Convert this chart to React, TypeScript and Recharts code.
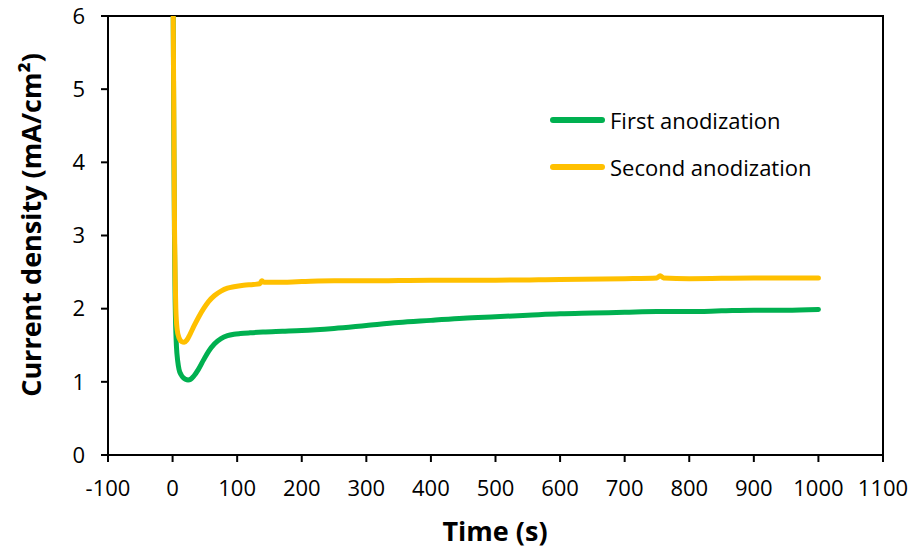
import React from 'react'
import { LineChart, Line, XAxis, YAxis, ReferenceArea, Label } from 'recharts'

const FONT = '"Open Sans", "Liberation Sans", sans-serif'

const xTicks = [-100, 0, 100, 200, 300, 400, 500, 600, 700, 800, 900, 1000, 1100]
const yTicks = [0, 1, 2, 3, 4, 5, 6]

const firstTime = [
  0, 1, 2, 3, 4, 5, 6, 8, 10, 13, 16, 20, 24, 28, 33, 40, 48, 56, 65, 75, 85, 95,
  105, 120, 140, 170, 200, 250, 300, 350, 400, 450, 500, 550, 600, 650, 700, 750,
  800, 850, 900, 950, 1000,
]
const firstCurrent = [
  8, 6, 4.2, 2.9, 2.1, 1.7, 1.48, 1.28, 1.17, 1.1, 1.06, 1.035, 1.025, 1.035, 1.08,
  1.17, 1.3, 1.42, 1.52, 1.59, 1.63, 1.65, 1.66, 1.67, 1.68, 1.69, 1.7, 1.73, 1.77,
  1.81, 1.84, 1.87, 1.89, 1.91, 1.93, 1.94, 1.95, 1.96, 1.96, 1.97, 1.98, 1.98, 1.99,
]

const secondTime = [
  0, 1, 2, 3, 4, 5, 7, 10, 14, 18, 22, 27, 33, 40, 48, 56, 65, 75, 85, 95, 110, 125,
  135, 138, 142, 160, 200, 250, 300, 400, 500, 600, 700, 750, 755, 760, 800, 900, 1000,
]
const secondCurrent = [
  8, 6, 4.5, 3.1, 2.4, 2.0, 1.72, 1.6, 1.55, 1.54, 1.57, 1.65, 1.76, 1.88, 2.0, 2.1,
  2.18, 2.24, 2.28, 2.3, 2.32, 2.33, 2.34, 2.38, 2.36, 2.36, 2.37, 2.38, 2.38, 2.39,
  2.39, 2.4, 2.41, 2.42, 2.45, 2.42, 2.41, 2.42, 2.42,
]

const firstData = firstTime.map((t, i) => ({ t, current: firstCurrent[i] }))
const secondData = secondTime.map((t, i) => ({ t, current: secondCurrent[i] }))

const GREEN = '#00B050'
const YELLOW = '#FFC000'

const seriesLegend = [
  { name: 'First anodization', color: GREEN },
  { name: 'Second anodization', color: YELLOW },
]

// legend sits inside the plot, drawn as a plain overlay so it takes no chart space
function LegendBox() {
  return (
    <div
      style={{
        position: 'absolute',
        left: 550,
        top: 96,
        fontFamily: FONT,
        fontSize: 22,
        color: '#000',
      }}
    >
      {seriesLegend.map((s) => (
        <div
          key={s.name}
          style={{ display: 'flex', alignItems: 'center', height: 47 }}
        >
          <div
            style={{
              width: 55,
              height: 6,
              borderRadius: 3,
              background: s.color,
              marginRight: 5,
            }}
          />
          <span>{s.name}</span>
        </div>
      ))}
    </div>
  )
}

export default function App() {
  return (
    <div style={{ position: 'absolute', left: 0, top: 0, width: 914, height: 550, background: '#fff' }}>
      <LineChart
        width={914}
        height={550}
        margin={{ top: 16, right: 31, left: 0, bottom: 0 }}
      >
        <XAxis
          type="number"
          dataKey="t"
          domain={[-100, 1100]}
          ticks={xTicks}
          interval={0}
          height={95}
          stroke="#000"
          strokeWidth={2}
          tickSize={7}
          tick={{ fontSize: 22, fill: '#000', fontFamily: FONT }}
          tickMargin={18}
        >
          <Label
            content={() => (
              <text
                x={495}
                y={530}
                textAnchor="middle"
                dominantBaseline="central"
                fontFamily={FONT}
                fontWeight="bold"
                fontSize={27}
                fill="#000"
              >
                Time (s)
              </text>
            )}
          />
        </XAxis>
        <YAxis
          type="number"
          domain={[0, 6]}
          ticks={yTicks}
          allowDataOverflow
          width={108}
          stroke="#000"
          strokeWidth={2}
          tickSize={7}
          tick={{ fontSize: 22, fill: '#000', fontFamily: FONT }}
          tickMargin={16}
        >
          <Label
            content={() => (
              <text
                x={30}
                y={225}
                textAnchor="middle"
                dominantBaseline="central"
                transform="rotate(-90 30 225)"
                fontFamily={FONT}
                fontWeight="bold"
                fontSize={27}
                fill="#000"
              >
                Current density (mA/cm²)
              </text>
            )}
          />
        </YAxis>
        <ReferenceArea
          x1={-100}
          x2={1100}
          y1={0}
          y2={6}
          fill="none"
          stroke="#000"
          strokeWidth={2}
        />
        <Line
          data={firstData}
          dataKey="current"
          name="First anodization"
          type="monotone"
          stroke={GREEN}
          strokeWidth={5}
          strokeLinecap="round"
          dot={false}
          isAnimationActive={false}
        />
        <Line
          data={secondData}
          dataKey="current"
          name="Second anodization"
          type="monotone"
          stroke={YELLOW}
          strokeWidth={5}
          strokeLinecap="round"
          dot={false}
          isAnimationActive={false}
        />
      </LineChart>
      <LegendBox />
    </div>
  )
}
